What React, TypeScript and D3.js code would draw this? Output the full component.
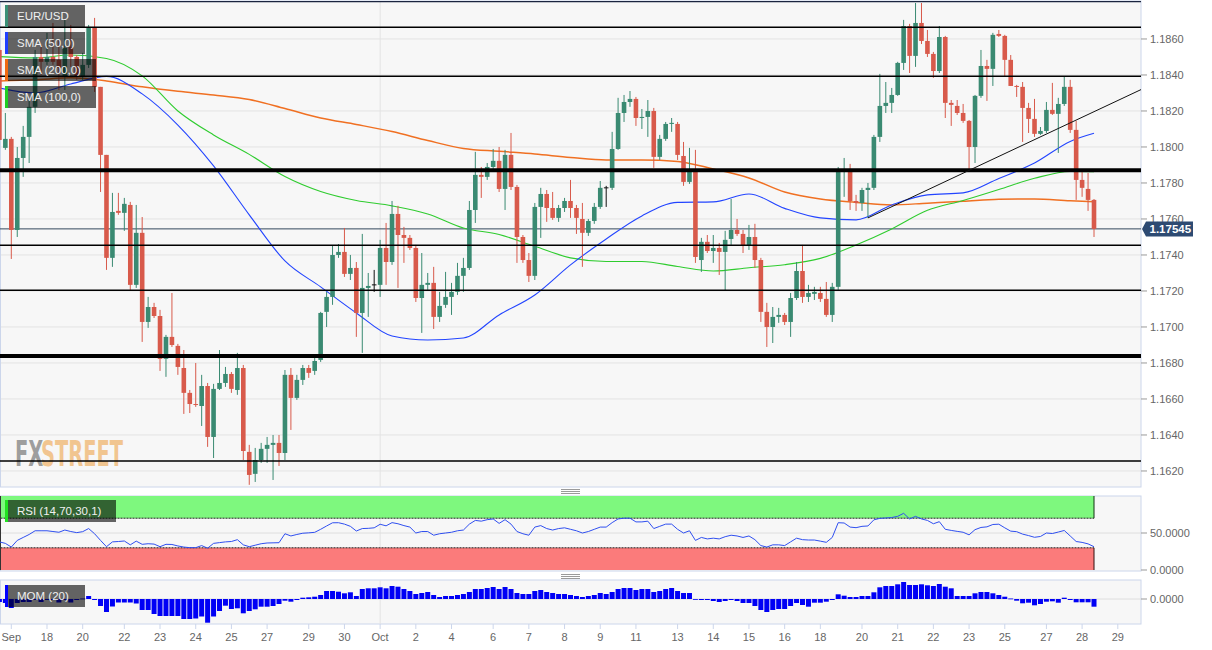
import React from 'react';
import * as d3 from 'd3';

// first candle index (4h candles, index 0 = Sep 18 00:00)
const FIRST = -8;

// [open, high, low, close]
const ohlc: number[][] = [
[1.18539,1.18567,1.17984,1.18039],[1.17995,1.18189,1.17984,1.18045],[1.18045,1.18056,1.17378,1.17539],[1.17539,1.18000,1.17500,1.17939],
[1.17939,1.18117,1.17834,1.18056],[1.18056,1.18261,1.17911,1.18223],[1.18223,1.18539,1.18189,1.18500],[1.18500,1.18567,1.18400,1.18473],
[1.18473,1.18634,1.18456,1.18500],[1.18500,1.18689,1.18456,1.18473],[1.18484,1.18595,1.18317,1.18439],[1.18389,1.18706,1.18317,1.18550],
[1.18556,1.18678,1.18445,1.18500],[1.18500,1.18511,1.18373,1.18389],[1.18389,1.18523,1.18373,1.18456],[1.18456,1.18678,1.18439,1.18667],
[1.18667,1.18717,1.18306,1.18334],[1.18334,1.18334,1.17750,1.17956],[1.17956,1.17956,1.17317,1.17384],[1.17384,1.17745,1.17334,1.17639],
[1.17645,1.17745,1.17623,1.17634],[1.17634,1.17717,1.17534,1.17684],[1.17678,1.17695,1.17206,1.17234],[1.17234,1.17678,1.17217,1.17523],
[1.17523,1.17611,1.16917,1.17028],[1.17028,1.17167,1.16995,1.17111],[1.17111,1.17134,1.17050,1.17061],[1.17061,1.17095,1.16756,1.16823],
[1.16823,1.16956,1.16723,1.16945],[1.16945,1.17189,1.16889,1.16900],[1.16895,1.16906,1.16734,1.16778],[1.16772,1.16872,1.16517,1.16634],
[1.16634,1.16650,1.16522,1.16572],[1.16572,1.16800,1.16556,1.16567],[1.16561,1.16734,1.16450,1.16672],[1.16672,1.16689,1.16334,1.16389],
[1.16389,1.16684,1.16272,1.16656],[1.16656,1.16872,1.16650,1.16689],[1.16689,1.16778,1.16667,1.16739],[1.16739,1.16750,1.16634,1.16656],
[1.16650,1.16856,1.16623,1.16772],[1.16772,1.16789,1.16261,1.16311],[1.16306,1.16345,1.16123,1.16178],[1.16184,1.16328,1.16139,1.16261],
[1.16261,1.16356,1.16245,1.16323],[1.16323,1.16389,1.16245,1.16345],[1.16345,1.16400,1.16150,1.16356],[1.16356,1.16400,1.16228,1.16300],
[1.16300,1.16761,1.16261,1.16734],[1.16734,1.16772,1.16428,1.16606],[1.16606,1.16734,1.16595,1.16706],[1.16706,1.16789,1.16678,1.16772],
[1.16772,1.16789,1.16717,1.16745],[1.16756,1.16845,1.16734,1.16811],[1.16817,1.17084,1.16806,1.17078],[1.17084,1.17195,1.17000,1.17167],
[1.17167,1.17450,1.17123,1.17400],[1.17400,1.17461,1.17384,1.17417],[1.17417,1.17550,1.17278,1.17295],[1.17295,1.17400,1.17261,1.17328],
[1.17328,1.17361,1.16945,1.17078],[1.17078,1.17517,1.16856,1.17217],[1.17217,1.17300,1.17056,1.17228],[1.17234,1.17317,1.17195,1.17234],
[1.17234,1.17484,1.17167,1.17439],[1.17439,1.17578,1.17234,1.17361],[1.17361,1.17700,1.17345,1.17628],[1.17628,1.17673,1.17217,1.17511],
[1.17511,1.17556,1.17356,1.17495],[1.17495,1.17511,1.17428,1.17439],[1.17439,1.17456,1.17139,1.17161],[1.17161,1.17411,1.16967,1.17234],
[1.17234,1.17300,1.17206,1.17245],[1.17245,1.17334,1.16989,1.17056],[1.17056,1.17195,1.17028,1.17117],[1.17123,1.17306,1.17106,1.17167],
[1.17167,1.17245,1.17067,1.17195],[1.17195,1.17356,1.17178,1.17284],[1.17284,1.17384,1.17195,1.17328],[1.17328,1.17700,1.17317,1.17650],
[1.17650,1.17973,1.17578,1.17845],[1.17845,1.17889,1.17717,1.17834],[1.17834,1.17911,1.17817,1.17889],[1.17889,1.17989,1.17873,1.17923],
[1.17923,1.18000,1.17750,1.17767],[1.17767,1.17984,1.17650,1.17956],[1.17956,1.18078,1.17761,1.17778],[1.17778,1.17789,1.17356,1.17500],
[1.17500,1.17511,1.17356,1.17372],[1.17372,1.17411,1.17250,1.17284],[1.17284,1.17689,1.17261,1.17667],[1.17667,1.17773,1.17495,1.17739],
[1.17739,1.17761,1.17584,1.17661],[1.17661,1.17750,1.17595,1.17606],[1.17606,1.17678,1.17584,1.17661],[1.17661,1.17717,1.17639,1.17700],
[1.17700,1.17817,1.17606,1.17661],[1.17661,1.17678,1.17517,1.17606],[1.17600,1.17689,1.17334,1.17523],[1.17523,1.17600,1.17506,1.17589],
[1.17589,1.17689,1.17573,1.17667],[1.17667,1.17811,1.17656,1.17773],[1.17773,1.17784,1.17667,1.17773],[1.17773,1.18084,1.17761,1.17989],
[1.17989,1.18273,1.17984,1.18189],[1.18189,1.18289,1.18139,1.18250],[1.18250,1.18311,1.18223,1.18267],[1.18267,1.18278,1.18117,1.18161],
[1.18161,1.18211,1.18100,1.18167],[1.18167,1.18261,1.18056,1.18200],[1.18200,1.18217,1.17884,1.17945],[1.17945,1.18067,1.17928,1.18045],
[1.18045,1.18139,1.18034,1.18128],[1.18128,1.18161,1.18084,1.18134],[1.18128,1.18139,1.17928,1.17956],[1.17950,1.18028,1.17784,1.17806],
[1.17806,1.17995,1.17795,1.17861],[1.17861,1.17984,1.17356,1.17389],[1.17372,1.17495,1.17306,1.17473],[1.17473,1.17511,1.17411,1.17422],
[1.17422,1.17511,1.17356,1.17439],[1.17439,1.17467,1.17289,1.17417],[1.17417,1.17534,1.17200,1.17484],[1.17489,1.17711,1.17456,1.17539],
[1.17539,1.17600,1.17506,1.17517],[1.17517,1.17539,1.17411,1.17450],[1.17450,1.17567,1.17428,1.17500],[1.17500,1.17573,1.17328,1.17372],
[1.17372,1.17384,1.17028,1.17084],[1.17084,1.17134,1.16889,1.17000],[1.17000,1.17111,1.16911,1.17056],[1.17056,1.17106,1.17023,1.17067],
[1.17067,1.17078,1.17011,1.17028],[1.17028,1.17189,1.16945,1.17161],[1.17161,1.17361,1.17150,1.17311],[1.17311,1.17456,1.17134,1.17167],
[1.17167,1.17234,1.17139,1.17189],[1.17184,1.17223,1.17150,1.17195],[1.17189,1.17223,1.17139,1.17156],[1.17156,1.17250,1.17056,1.17067],
[1.17067,1.17245,1.17028,1.17223],[1.17223,1.17889,1.17206,1.17873],[1.17861,1.17939,1.17723,1.17873],[1.17861,1.17906,1.17650,1.17700],
[1.17700,1.17734,1.17645,1.17689],[1.17689,1.17773,1.17645,1.17761],[1.17761,1.17800,1.17606,1.17773],[1.17773,1.18067,1.17761,1.18056],
[1.18056,1.18406,1.18028,1.18228],[1.18228,1.18361,1.18189,1.18245],[1.18245,1.18328,1.18189,1.18289],[1.18289,1.18473,1.18284,1.18467],
[1.18467,1.18706,1.18428,1.18672],[1.18672,1.18684,1.18411,1.18506],[1.18506,1.18800,1.18445,1.18689],[1.18689,1.18800,1.18572,1.18589],
[1.18589,1.18650,1.18500,1.18517],[1.18517,1.18528,1.18384,1.18422],[1.18422,1.18672,1.18411,1.18611],[1.18611,1.18617,1.18161,1.18245],
[1.18245,1.18261,1.18117,1.18234],[1.18228,1.18261,1.18178,1.18189],[1.18189,1.18239,1.18134,1.18145],[1.18145,1.18150,1.17878,1.18000],
[1.18000,1.18289,1.17911,1.18284],[1.18284,1.18539,1.18273,1.18450],[1.18450,1.18484,1.18256,1.18434],[1.18434,1.18634,1.18339,1.18623],
[1.18628,1.18650,1.18611,1.18617],[1.18617,1.18623,1.18389,1.18484],[1.18484,1.18511,1.18339,1.18339],[1.18339,1.18345,1.18278,1.18334],
[1.18334,1.18361,1.18028,1.18217],[1.18217,1.18245,1.18078,1.18156],[1.18156,1.18267,1.18056,1.18073],[1.18073,1.18111,1.18067,1.18089],
[1.18089,1.18250,1.18078,1.18206],[1.18206,1.18356,1.18178,1.18184],[1.18184,1.18273,1.17967,1.18239],[1.18239,1.18389,1.18228,1.18334],
[1.18334,1.18373,1.18078,1.18095],[1.18095,1.18145,1.17706,1.17817],[1.17817,1.17873,1.17723,1.17773],[1.17767,1.17856,1.17645,1.17706],
[1.17706,1.17711,1.17500,1.17545],
];

const rsi14: number[] = [
38,36,31,40,44,48,53,53,
53,52,51,54,52,50.5,51.8,56,49,40,
31.5,38,38.5,39.2,34,39,34.7,35.5,35,31.5,
34.7,34.5,32.5,31,30.2,30.2,33,29.5,36,37,
38,38.5,41,34,31.5,33.5,35.5,36.5,36.7,36.9,
49,46,48,49.7,50.2,50.9,55,59.5,63.8,63.9,
62,59,52.7,56,56.3,57,61.8,59.7,64,62.5,
60,58,50,52,52,47,49,50,51,53,
54,62,67,66,68,69,63,68,62,52,
49,47,58,60,56,54,56,57,55,53,
50,52,55,58,58,64,69,70,70,65,
65,66,56,59,62,62,55,50,53,40,
44,42,43,42,45,47,46,44,46,41,
33,31,34,34,33,38,43,
41,40.5,40.5,39,37.4,44,63.9,63.5,58,57.2,
59,59.5,67.8,69.8,70.3,70.9,72.5,76.6,69,72.5,
69,67,62.5,65.3,55,53.5,52.2,51,47.5,54.5,
57.5,58.3,61.5,61.9,57,52.5,51.8,48.5,46.5,44.2,
45.3,50,49.3,51.3,53.4,46,38.5,37.3,35.3,31.5,
];

const mom20: number[] = [
-0.0030,-0.0040,-0.0090,-0.0040,-0.0030,-0.0030,-0.0010,-0.0030,
-0.0010,-0.0010,-0.0035,-0.0010,-0.0035,-0.0010,0.0005,0.0030,-0.0010,-0.0070,
-0.0130,-0.0075,-0.0035,-0.0035,-0.0035,-0.0045,-0.0110,-0.0110,-0.0150,-0.0170,
-0.0170,-0.0170,-0.0170,-0.0200,-0.0200,-0.0195,-0.0175,-0.0237,-0.0175,-0.0120,
-0.0067,-0.0100,-0.0093,-0.0143,-0.0120,-0.0103,-0.0077,-0.0077,-0.0070,-0.0050,
-0.0017,-0.0027,-0.0010,0.0013,0.0017,0.0023,0.0040,0.0080,0.0080,0.0073,
0.0057,0.0067,0.0030,0.0100,0.0107,0.0107,0.0117,0.0107,0.0130,0.0123,
0.0100,0.0080,0.0050,0.0060,0.0070,0.0040,0.0020,0.0030,0.0030,0.0040,
0.0050,0.0070,0.0100,0.0100,0.0110,0.0120,0.0100,0.0120,0.0100,0.0060,
0.0050,0.0050,0.0080,0.0090,0.0070,0.0060,0.0050,0.0050,0.0040,0.0030,
0.0020,0.0030,0.0040,0.0060,0.0050,0.0070,0.0100,0.0110,0.0110,0.0090,
0.0100,0.0100,0.0070,0.0080,0.0100,0.0110,0.0080,0.0060,0.0060,0.0000,
-0.0010,-0.0010,-0.0020,-0.0030,-0.0020,-0.0010,-0.0020,-0.0040,-0.0040,-0.0070,
-0.0110,-0.0130,-0.0110,-0.0100,-0.0100,-0.0070,-0.0040,
-0.0060,-0.0077,-0.0037,-0.0037,-0.0027,-0.0010,0.0047,0.0033,0.0020,0.0020,
0.0030,0.0030,0.0067,0.0117,0.0130,0.0130,0.0147,0.0170,0.0140,0.0140,
0.0147,0.0137,0.0130,0.0150,0.0123,0.0107,0.0030,0.0030,0.0030,0.0057,
0.0070,0.0070,0.0057,0.0040,0.0023,0.0005,-0.0017,-0.0043,-0.0037,-0.0063,
-0.0050,-0.0027,-0.0023,-0.0037,0.0013,-0.0010,-0.0033,-0.0033,-0.0033,-0.0077,
];

// moving averages, read at these candle indices
const smaAt = [-8,-2,4,10,16,22,28,34,40,46,52,58,64,70,76,82,88,94,100,106,112,118,124,130,136,142,148,154,160,166,172,176];
const sma50 = [1.18328,1.18300,1.18350,1.18392,1.18295,1.18122,1.17895,1.17623,1.17367,1.17223,1.17078,1.16950,1.16928,1.16939,1.17067,1.17178,1.17345,1.17489,1.17617,1.17692,1.17695,1.17739,1.17659,1.17606,1.17595,1.17678,1.17734,1.17745,1.17825,1.17911,1.18031,1.18076];
const sma100 = [1.18502,1.18495,1.18511,1.18492,1.18395,1.18200,1.18067,1.17959,1.17836,1.17753,1.17703,1.17673,1.17628,1.17550,1.17514,1.17448,1.17384,1.17364,1.17364,1.17336,1.17311,1.17329,1.17346,1.17381,1.17456,1.17545,1.17648,1.17703,1.17764,1.17826,1.17864,1.17863];
const sma200 = [1.18367,1.18373,1.18384,1.18367,1.18334,1.18309,1.18289,1.18264,1.18214,1.18161,1.18125,1.18086,1.18036,1.17992,1.17976,1.17961,1.17942,1.17928,1.17928,1.17920,1.17878,1.17828,1.17750,1.17711,1.17692,1.17678,1.17688,1.17698,1.17709,1.17711,1.17701,1.17696];

const dayTicks: [number, string][] = [
[-6,'Sep'],[0,'18'],[6,'20'],[13,'22'],[19,'23'],[25,'24'],[31,'25'],[37,'27'],[44,'29'],[50,'30'],
[56,'Oct'],[62,'2'],[68,'4'],[75,'6'],[81,'7'],[87,'8'],[93,'9'],[99,'11'],[106,'13'],[112,'14'],
[118,'15'],[124,'16'],[130,'18'],[137,'20'],[143,'21'],[149,'22'],[155,'23'],[161,'25'],[168,'27'],[174,'28'],[180,'29'],
];
const monthStart = 56;
const priceTicks = [1.162,1.164,1.166,1.168,1.170,1.172,1.174,1.176,1.178,1.180,1.182,1.184,1.186];
const thinLevels = [1.18665, 1.18393, 1.17454, 1.17204, 1.16256];
const thickLevels = [1.17871, 1.16839];
const topLevel = 1.18808;
const trendPts: [number, number][] = [[138, 1.17606], [155, 1.17870]];
const lastPrice = 1.17545;

const UP = '#3a8a72';
const DOWN = '#d85a4b';
const FONT = '"Liberation Sans", Arial, sans-serif';

export default function App() {
  const W = 1212, H = 650, R = 1141;
  const x = d3.scaleLinear().domain([-7.9, 183.9]).range([0, R]);
  const y = d3.scaleLinear().domain([1.16111, 1.18811]).range([487, 1]);
  const yR = d3.scaleLinear().domain([0, 100]).range([570, 496]);
  const yM = d3.scaleLinear().domain([-0.025, 0.019]).range([624, 580]);
  const idx = (i: number) => i + FIRST;
  const lastJ = idx(ohlc.length - 1);

  const smaLine = (vals: number[]) =>
    d3.line<number>().x((_, i) => x(smaAt[i])).y(v => y(v)).curve(d3.curveMonotoneX)(vals) || '';
  const rsiPath = d3.line<number>().x((_, i) => x(idx(i))).y(v => yR(v))(rsi14) || '';

  const slope = (trendPts[1][1] - trendPts[0][1]) / (trendPts[1][0] - trendPts[0][0]);
  const tEnd = 183.9;
  const tEndP = trendPts[0][1] + slope * (tEnd - trendPts[0][0]);

  const bw = 4.6;
  const legend = (yy: number, w: number, color: string, label: string) => (
    <g key={label}>
      <rect x={5} y={yy} width={w} height={22} fill="rgba(0,0,0,0.6)" />
      <rect x={5} y={yy} width={3} height={22} fill={color} />
      <text x={17} y={yy + 15} fontSize={11.5} fill="#f0f0f0" fontFamily={FONT}>{label}</text>
    </g>
  );
  const ly = y(lastPrice);

  return (
    <div style={{ position: 'absolute', left: 0, top: 0 }}>
      <svg width={W} height={H} style={{ display: 'block', background: '#fff' }}>
        <defs>
          <clipPath id="mainClip"><rect x={0} y={1} width={R} height={486} /></clipPath>
        </defs>
        {/* panels */}
        <rect x={0.5} y={1} width={R - 0.5} height={486} fill="#f7f7f7" stroke="#ccd6eb" />
        <rect x={0.5} y={496} width={R - 0.5} height={75} fill="#f7f7f7" stroke="#ccd6eb" />
        <rect x={0.5} y={580} width={R - 0.5} height={44} fill="#f7f7f7" stroke="#ccd6eb" />

        {/* grid */}
        {priceTicks.map(p => (
          <line key={p} x1={1} x2={R} y1={y(p)} y2={y(p)} stroke="#e3e3e3" />
        ))}
        <line x1={x(monthStart)} x2={x(monthStart)} y1={1} y2={487} stroke="#e3e3e3" />
        <line x1={x(monthStart)} x2={x(monthStart)} y1={496} y2={571} stroke="#e3e3e3" />
        <line x1={x(monthStart)} x2={x(monthStart)} y1={580} y2={624} stroke="#e3e3e3" />

        {/* watermark */}
        <g transform="translate(15,466) scale(0.54,1)" fontSize={36} fontWeight="bold" fontFamily='"DejaVu Sans", sans-serif'>
          <text x={0} y={0} fill="#8e8e8e" fillOpacity={0.85}>FX</text>
          <text x={48} y={0} fill="#f0b56e" fillOpacity={0.75}>STREET</text>
        </g>

        <g clipPath="url(#mainClip)">
          {/* last price line */}
          <line x1={0} x2={R} y1={ly} y2={ly} stroke="#34495e" strokeWidth={1} />
          {/* SMAs */}
          <path d={smaLine(sma200)} fill="none" stroke="#f07022" strokeWidth={1.5} />
          <path d={smaLine(sma100)} fill="none" stroke="#2fcc2f" strokeWidth={1.1} />
          <path d={smaLine(sma50)} fill="none" stroke="#2244ff" strokeWidth={1.1} />
          {/* candles */}
          {ohlc.map((c, i) => {
            const [o, h, l, cl] = c;
            const cx = x(idx(i));
            const doji = Math.abs(o - cl) < 0.00002;
            const col = doji ? '#111' : cl >= o ? UP : DOWN;
            const top = y(Math.max(o, cl));
            const bot = y(Math.min(o, cl));
            return (
              <g key={i}>
                <line x1={cx} x2={cx} y1={y(Math.max(h, o, cl))} y2={y(Math.min(l, o, cl))} stroke={col} strokeWidth={1} />
                {doji ? (
                  <line x1={cx - bw / 2} x2={cx + bw / 2} y1={top} y2={top} stroke={col} strokeWidth={1} />
                ) : (
                  <rect x={cx - bw / 2} y={top} width={bw} height={Math.max(1, bot - top)} fill={col} />
                )}
              </g>
            );
          })}
          {/* levels */}
          <line x1={0} x2={R} y1={y(topLevel)} y2={y(topLevel)} stroke="#1b2540" strokeWidth={1.2} />
          {thinLevels.map(p => (
            <line key={p} x1={0} x2={R} y1={y(p)} y2={y(p)} stroke="#000" strokeWidth={1.5} />
          ))}
          {thickLevels.map(p => (
            <line key={p} x1={0} x2={R} y1={y(p)} y2={y(p)} stroke="#000" strokeWidth={4} />
          ))}
          {/* trend line */}
          <line x1={x(trendPts[0][0])} y1={y(trendPts[0][1])} x2={x(tEnd)} y2={y(tEndP)} stroke="#111" strokeWidth={1} />
        </g>

        {/* price axis */}
        {priceTicks.map(p => (
          <g key={'t' + p}>
            <line x1={R} x2={R + 6} y1={y(p)} y2={y(p)} stroke="#999" />
            <text x={R + 9} y={y(p) + (Math.abs(y(p) - ly) > 9 ? 4 : 1)} fontSize={11} fill="#666" fontFamily={FONT}>{p.toFixed(4)}</text>
          </g>
        ))}
        <path d={`M${R + 1},${ly} L${R + 5},${ly - 7.5} L${R + 52},${ly - 7.5} L${R + 52},${ly + 7.5} L${R + 5},${ly + 7.5} Z`} fill="#2d4a72" />
        <text x={R + 8.5} y={ly + 4} fontSize={11.5} fontWeight="bold" fill="#fff" fontFamily={FONT}>{lastPrice.toFixed(5)}</text>

        {/* resize handles */}
        {[489.5, 491.5, 493.5, 574.5, 576.5, 578.5].map(v => (
          <line key={v} x1={561} x2={580} y1={v} y2={v} stroke="#9a9a9a" strokeWidth={1} />
        ))}

        {/* RSI panel */}
        <rect x={0.5} y={yR(100)} width={x(lastJ) - 0.5} height={yR(70) - yR(100)} fill="#7ef87e" />
        <rect x={0.5} y={yR(30)} width={x(lastJ) - 0.5} height={yR(0) - yR(30)} fill="#fb7b7b" />
        <line x1={0.5} x2={x(lastJ)} y1={yR(70)} y2={yR(70)} stroke="#222" strokeDasharray="2,1" />
        <line x1={0.5} x2={x(lastJ)} y1={yR(30)} y2={yR(30)} stroke="#222" strokeDasharray="2,1" />
        <line x1={x(lastJ)} x2={x(lastJ)} y1={yR(100)} y2={yR(70)} stroke="#113311" />
        <line x1={x(lastJ)} x2={x(lastJ)} y1={yR(30)} y2={yR(0)} stroke="#331111" />
        <line x1={0.5} x2={0.5} y1={yR(100)} y2={yR(0)} stroke="#333" />
        <line x1={1} x2={R} y1={yR(50)} y2={yR(50)} stroke="#dedede" />
        <path d={rsiPath} fill="none" stroke="#2f4ff0" strokeWidth={1} />
        {[50, 0].map(v => (
          <g key={'r' + v}>
            <line x1={R} x2={R + 6} y1={yR(v)} y2={yR(v)} stroke="#999" />
            <text x={R + 9} y={yR(v) + 4} fontSize={11} fill="#666" fontFamily={FONT}>{v.toFixed(4)}</text>
          </g>
        ))}

        {/* MOM panel */}
        <line x1={1} x2={R} y1={yM(0)} y2={yM(0)} stroke="#dedede" />
        {mom20.map((v, i) => {
          const cx = x(idx(i));
          const a = yM(0), b = yM(v);
          return <rect key={i} x={cx - 2.5} y={Math.min(a, b)} width={5} height={Math.max(0.8, Math.abs(b - a))} fill="#0000f5" />;
        })}
        <line x1={R} x2={R + 6} y1={yM(0)} y2={yM(0)} stroke="#999" />
        <text x={R + 9} y={yM(0) + 4} fontSize={11} fill="#666" fontFamily={FONT}>0.0000</text>

        {/* x axis */}
        {dayTicks.map(([j, lab]) => (
          <g key={'d' + j}>
            <line x1={x(j)} x2={x(j)} y1={624} y2={629} stroke="#ccd6eb" />
            <text x={x(j)} y={641} textAnchor="middle" fontSize={11} fill="#666" fontFamily={FONT}>{lab}</text>
          </g>
        ))}

        {/* legends */}
        {legend(5, 80, '#3a8f76', 'EUR/USD')}
        {legend(32, 80, '#1f3fff', 'SMA (50,0)')}
        {legend(59, 91, '#f06a12', 'SMA (200,0)')}
        {legend(86, 91, '#22cc22', 'SMA (100,0)')}
        {legend(500, 111, '#22e022', 'RSI (14,70,30,1)')}
        {legend(585, 80, '#0000ff', 'MOM (20)')}
      </svg>
    </div>
  );
}
